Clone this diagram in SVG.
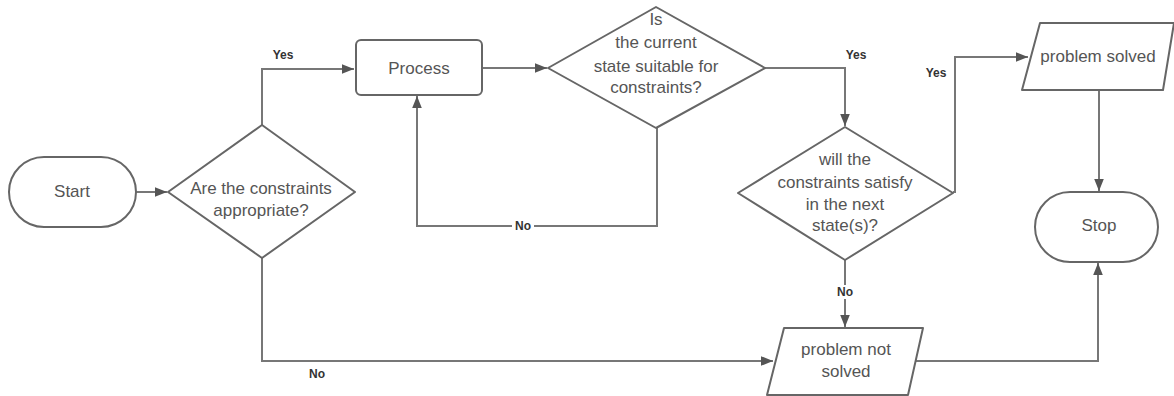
<svg xmlns="http://www.w3.org/2000/svg" width="1174" height="396" viewBox="0 0 1174 396">
<style>
.shape{fill:#fff;stroke:#666;stroke-width:2;stroke-linejoin:round}
.t{font-family:"Liberation Sans",Arial,sans-serif;font-size:17px;fill:#555;text-anchor:middle}
.lbl{font-family:"Liberation Sans",Arial,sans-serif;font-size:12px;font-weight:bold;fill:#333;text-anchor:middle}
.c{fill:none;stroke:#777;stroke-width:2}
</style>
<defs>
<marker id="ah" viewBox="0 0 10 10" refX="10" refY="5" markerWidth="12" markerHeight="12" markerUnits="userSpaceOnUse" orient="auto">
<path d="M0,1 L10,5 L0,9 Z" fill="#555"/>
</marker>
</defs>
<rect width="1174" height="396" fill="#fff"/>
<g id="connectors">
<path class="c" d="M136,192 H167" marker-end="url(#ah)"/>
<path class="c" d="M262,125 V69 H354" marker-end="url(#ah)"/>
<path class="c" d="M482,68 H547" marker-end="url(#ah)"/>
<path class="c" d="M657,127 V226 H417 V96" marker-end="url(#ah)"/>
<path class="c" d="M765,68 H845 V126" marker-end="url(#ah)"/>
<path class="c" d="M953,192 H955 V57 H1028" marker-end="url(#ah)"/>
<path class="c" d="M1099,90 V191" marker-end="url(#ah)"/>
<path class="c" d="M845,260 V327" marker-end="url(#ah)"/>
<path class="c" d="M262,258 V361 H773" marker-end="url(#ah)"/>
<path class="c" d="M913,361 H1098 V263" marker-end="url(#ah)"/>
<rect x="512" y="219" width="22" height="14" fill="#fff"/>
<text class="lbl" x="523" y="230">No</text>
<text class="lbl" x="283" y="59">Yes</text>
<text class="lbl" x="856" y="59">Yes</text>
<text class="lbl" x="936" y="77">Yes</text>
<rect x="834" y="285" width="22" height="14" fill="#fff"/>
<text class="lbl" x="845" y="296">No</text>
<text class="lbl" x="317" y="378">No</text>
</g>
<g id="start">
<rect class="shape" x="9" y="157" width="127" height="70" rx="35" ry="35"/>
<text class="t" x="72" y="197">Start</text>
</g>
<g id="decision1">
<polygon class="shape" points="262,125 355,192 262,258 168,192"/>
<text class="t" x="261" y="194">Are the constraints</text>
<text class="t" x="261" y="216">appropriate?</text>
</g>
<g id="process">
<rect class="shape" x="356" y="40" width="126" height="55" rx="5" ry="5"/>
<text class="t" x="419" y="74">Process</text>
</g>
<g id="decision2">
<polygon class="shape" points="656,7 765,68 656,128 548,68"/>
<text class="t" x="656" y="25">Is</text>
<text class="t" x="656" y="48">the current</text>
<text class="t" x="656" y="72">state suitable for</text>
<text class="t" x="656" y="93">constraints?</text>
</g>
<g id="decision3">
<polygon class="shape" points="845,127 953,193 845,260 738,193"/>
<text class="t" x="845" y="165">will the</text>
<text class="t" x="845" y="188">constraints satisfy</text>
<text class="t" x="845" y="210">in the next</text>
<text class="t" x="845" y="231">state(s)?</text>
</g>
<g id="solved">
<path class="shape" d="M1040,23 H1174 L1163,90 H1022 Z"/>
<text class="t" x="1098" y="62">problem  solved</text>
</g>
<g id="stop">
<rect class="shape" x="1035" y="192" width="123" height="70" rx="35" ry="35"/>
<text class="t" x="1099" y="231">Stop</text>
</g>
<g id="notsolved">
<path class="shape" d="M784,328 H923 L908,395 H767 Z"/>
<text class="t" x="846" y="355">problem not</text>
<text class="t" x="846" y="377">solved</text>
</g>
</svg>
